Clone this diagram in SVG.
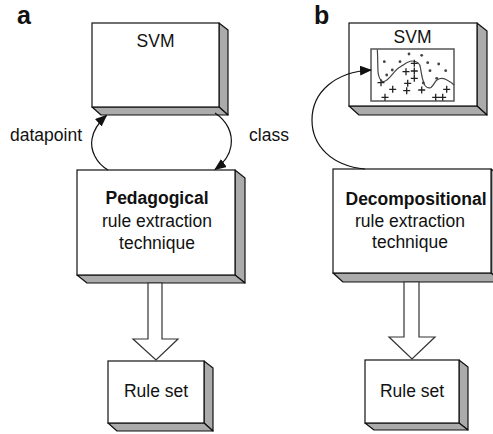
<svg xmlns="http://www.w3.org/2000/svg" width="493" height="434" viewBox="0 0 493 434">
<style>
.front{fill:#fff;stroke:#111;stroke-width:1.2}
.side{fill:#ababab;stroke:#111;stroke-width:1.2;stroke-linejoin:round}
.t{font-family:"Liberation Sans",Arial,sans-serif;font-size:17.5px;fill:#111;text-anchor:middle}
.b{font-weight:bold}
.lbl{font-family:"Liberation Sans",Arial,sans-serif;font-weight:bold;font-size:25px;fill:#111}
.conn{fill:none;stroke:#111;stroke-width:1.2}
.hollow{fill:#fff;stroke:#333;stroke-width:1.2;stroke-linejoin:miter}
.plot{fill:#fff;stroke:#555;stroke-width:1.5}
.dot{fill:#444}
.plus{stroke:#222;stroke-width:1.3}
</style>
<defs>
<marker id="ah" viewBox="0 0 12 10" refX="11" refY="5" markerWidth="12" markerHeight="10" markerUnits="userSpaceOnUse" orient="auto">
<path d="M0,0 L12,5 L0,10 Z" fill="#111"/>
</marker>
</defs>
<rect width="493" height="434" fill="#fff"/>
<text class="lbl" x="17" y="24">a</text>
<text class="lbl" x="314" y="24">b</text>

<g id="svm-a">
<polygon class="side" points="219,23 228,30 228,115 219,107"/>
<polygon class="side" points="92,107 219,107 228,115 101,115"/>
<rect class="front" x="92" y="23" width="127" height="84"/>
<text class="t" x="155.5" y="47">SVM</text>
</g>

<g id="pedagogical">
<polygon class="side" points="235,170 245,178 245,283 235,275"/>
<polygon class="side" points="77,275 235,275 245,283 87,283"/>
<rect class="front" x="77" y="170" width="158" height="105"/>
<text class="t b" x="157" y="204">Pedagogical</text>
<text class="t" x="157" y="227">rule extraction</text>
<text class="t" x="157" y="249">technique</text>
</g>

<g id="ruleset-a">
<polygon class="side" points="204,361 213,368 213,431 204,423"/>
<polygon class="side" points="108,423 204,423 213,431 117,431"/>
<rect class="front" x="108" y="361" width="96" height="62"/>
<text class="t" x="156" y="397">Rule set</text>
</g>

<g id="svm-b">
<polygon class="side" points="477,23 487,31 487,115 477,106"/>
<polygon class="side" points="349,106 477,106 487,115 359,115"/>
<rect class="front" x="349" y="23" width="128" height="83"/>
<text class="t" x="412.5" y="43">SVM</text>
<rect class="plot" x="371" y="49" width="83" height="52"/>
<path d="M377.3,49.5 C378,60 377.5,70 378.3,74 C379.5,80 382,82 384,81.5 C390,80 394,70 400,67 C405,64 408,61 412,61 C417,61 420,63 420.5,68 C421.5,74 422,80 425,85.5 C427,88 429,88.5 431,87.5 C434,85 435,81 437,80 C440,78 443,78 446,79.5 C449,81 452,83 454,85" fill="none" stroke="#444" stroke-width="1.2"/>
<g class="dot">
<circle cx="409" cy="54" r="1.4"/><circle cx="421.7" cy="55.3" r="1.4"/><circle cx="384.3" cy="61.7" r="1.4"/><circle cx="400" cy="61.7" r="1.4"/><circle cx="427.7" cy="62.7" r="1.4"/><circle cx="438.7" cy="64" r="1.4"/><circle cx="392.3" cy="70" r="1.4"/><circle cx="430" cy="70.7" r="1.4"/><circle cx="445.7" cy="70.7" r="1.4"/><circle cx="386.7" cy="75" r="1.4"/><circle cx="436.7" cy="78.3" r="1.4"/><circle cx="423.3" cy="83" r="1.4"/>
</g>
<path class="plus" d="M410.8,63.3h7M414.3,59.8v7 M402.5,71.7h7M406,68.2v7 M410.8,71h7M414.3,67.5v7 M410.8,78.3h7M414.3,74.8v7 M404.2,83.3h7M407.7,79.8v7 M377.5,82.7h7M381,79.2v7 M389.2,89.3h7M392.7,85.8v7 M403.2,90.7h7M406.7,87.2v7 M418.2,90h7M421.7,86.5v7 M443.2,89.3h7M446.7,85.8v7 M381.5,97.3h7M385,93.8v7 M432.2,97.3h7M435.7,93.8v7 M439.2,97.3h7M442.7,93.8v7"/>
</g>

<g id="decompositional">
<polygon class="side" points="491,169 501,177 501,282 491,273"/>
<polygon class="side" points="333,273 491,273 501,282 343,282"/>
<rect class="front" x="333" y="169" width="158" height="104"/>
<text class="t b" x="416" y="205">Decompositional</text>
<text class="t" x="410" y="227">rule extraction</text>
<text class="t" x="410" y="248">technique</text>
</g>

<g id="ruleset-b">
<polygon class="side" points="459,360 468,367 468,430 459,423"/>
<polygon class="side" points="365,423 459,423 468,430 374,430"/>
<rect class="front" x="365" y="360" width="94" height="63"/>
<text class="t" x="412" y="397">Rule set</text>
</g>

<g id="connectors">
<path class="conn" marker-end="url(#ah)" d="M108,170 C96,163 90,150 92,139 C93.5,130 98,123 106.5,115.5"/>
<text class="t" x="46" y="141">datapoint</text>
<path class="conn" marker-end="url(#ah)" d="M215,113 C227,121 233,133 231,146 C229.5,156 224,163 215,169.5"/>
<text class="t" x="269" y="141">class</text>
<polygon class="hollow" points="148,283 162,283 162,339 178,339 156,360 133,339 148,339"/>
<path class="conn" marker-end="url(#ah)" d="M365,169 C332,166 312,146 312,120 C312,92 335,72 371,70"/>
<polygon class="hollow" points="404,282 419,282 419,337 435,337 412,359 389,337 404,337"/>
</g>
</svg>
